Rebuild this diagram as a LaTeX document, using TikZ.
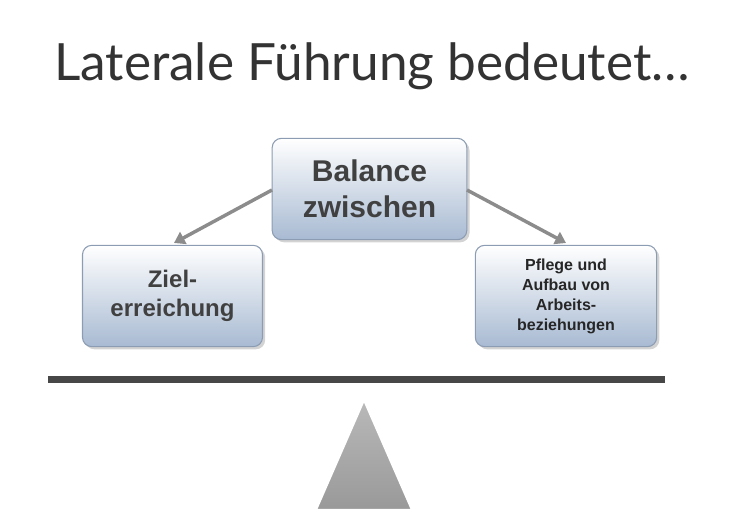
\documentclass[tikz,border=0pt]{standalone}
\usepackage{fontspec}
\setmainfont{Liberation Sans}
\newfontfamily\titlefont{Lato}
\usetikzlibrary{shadows,arrows.meta}
\definecolor{boxbot}{HTML}{A8BAD2}
\definecolor{boxedge}{HTML}{8C9CB2}
\begin{document}
\begin{tikzpicture}[x=0.75pt,y=-0.75pt,
  box/.style={draw=boxedge, line width=0.8pt, rounded corners=7pt,
    top color=white, bottom color=boxbot, drop shadow={opacity=0.35,shadow xshift=2pt,shadow yshift=-2pt},
    align=center, font=\bfseries, text=black!75},
  conn/.style={draw=gray!90, line width=2.6pt, -{Triangle[length=8pt,width=10pt]}}]
\useasboundingbox (0,0) rectangle (751,531);
\node[font=\titlefont\fontsize{38.5}{40}\selectfont, text=black!80] (title) at (372,66) {Laterale Führung bedeutet…};
\node[box, minimum width=146pt, minimum height=76pt, font=\bfseries\fontsize{22.5}{27}\selectfont] (top) at (369.5,189) {Balance\\zwischen};
\node[box, minimum width=135pt, minimum height=76pt, font=\bfseries\fontsize{18}{22}\selectfont] (left) at (172.5,296) {Ziel-\\erreichung};
\node[box, minimum width=136pt, minimum height=76pt, font=\bfseries\fontsize{12}{15}\selectfont, text=black!85] (right) at (566,296) {Pflege und\\Aufbau von\\Arbeits-\\beziehungen};
\coordinate (tl) at (272,190);
\coordinate (tr) at (467,190);
\coordinate (al) at (174,243);
\coordinate (ar) at (566,243);
\draw[conn] (tl) -- (al);
\draw[conn] (tr) -- (ar);
\fill[black!72] (48,376) rectangle (665,383);
\shade[top color=gray!55, bottom color=gray!80, draw=white, line width=1.5pt] (364,400) -- (412,510) -- (316,510) -- cycle;
\end{tikzpicture}
\end{document}
